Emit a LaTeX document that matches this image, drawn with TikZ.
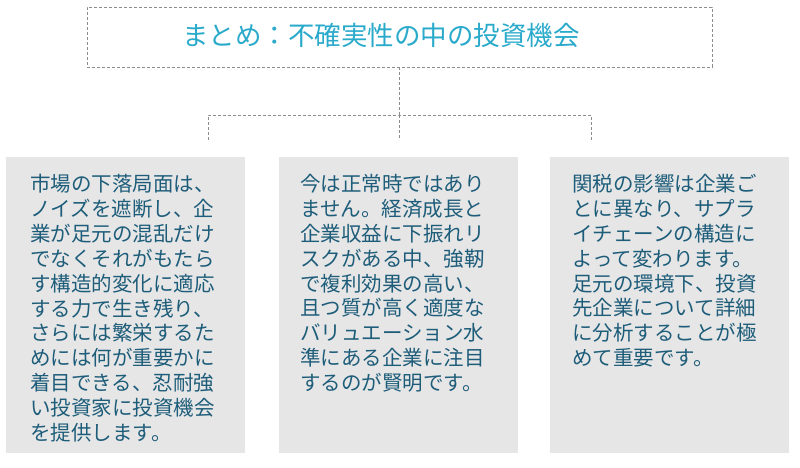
\documentclass[tikz,border=0pt]{standalone}
\usepackage{fontspec}
\newfontfamily\jp{Noto Sans CJK JP}
\definecolor{titlecyan}{HTML}{2AAACB}
\definecolor{bodyblue}{HTML}{1E5D7A}
\definecolor{panelgray}{HTML}{E6E6E6}
\definecolor{linegray}{HTML}{8C8C8C}
\begin{document}
\begin{tikzpicture}[x=1pt,y=1pt,
  link/.style={linegray,line width=0.8pt,dash pattern=on 3pt off 2pt},
  headbox/.style={link,draw,minimum width=625pt,minimum height=60pt},
  headtext/.style={inner sep=0pt,text=titlecyan,font=\jp\fontsize{26.5}{32}\selectfont},
  panel/.style={fill=panelgray,minimum width=239pt,minimum height=296pt,inner sep=0pt},
  body/.style={anchor=north west,inner sep=0pt,text=bodyblue,align=left,font=\jp\fontsize{20.5}{24.9}\selectfont}]
\useasboundingbox (0,0) rectangle (800,-468);
\node[headbox] (head) at (399.5,-37) {};
\node[headtext] (title) at (381,-35) {まとめ：不確実性の中の投資機会};
\coordinate (j) at (399.5,-115);
\coordinate (d1) at (208,-140);
\coordinate (d2) at (399.5,-140);
\coordinate (d3) at (591,-140);
\draw[link] (head.south) -- (j);
\draw[link] (d1) |- (j) -| (d3);
\draw[link] (j) -- (d2);
\node[panel] (p1) at (125.5,-305) {};
\node[panel] (p2) at (398.5,-305) {};
\node[panel] (p3) at (669.5,-305) {};
\node[body] (t1) at (30,-174) {市場の下落局面は、\\ノイズを遮断し、企\\業が足元の混乱だけ\\でなくそれがもたら\\す構造的変化に適応\\する力で生き残り、\\さらには繁栄するた\\めには何が重要かに\\着目できる、忍耐強\\い投資家に投資機会\\を提供します。};
\node[body] (t2) at (300,-174) {今は正常時ではあり\\ません。経済成長と\\企業収益に下振れリ\\スクがある中、強靭\\で複利効果の高い、\\且つ質が高く適度な\\バリュエーション水\\準にある企業に注目\\するのが賢明です。};
\node[body] (t3) at (572,-174) {関税の影響は企業ご\\とに異なり、サプラ\\イチェーンの構造に\\よって変わります。\\足元の環境下、投資\\先企業について詳細\\に分析することが極\\めて重要です。};
\end{tikzpicture}
\end{document}
